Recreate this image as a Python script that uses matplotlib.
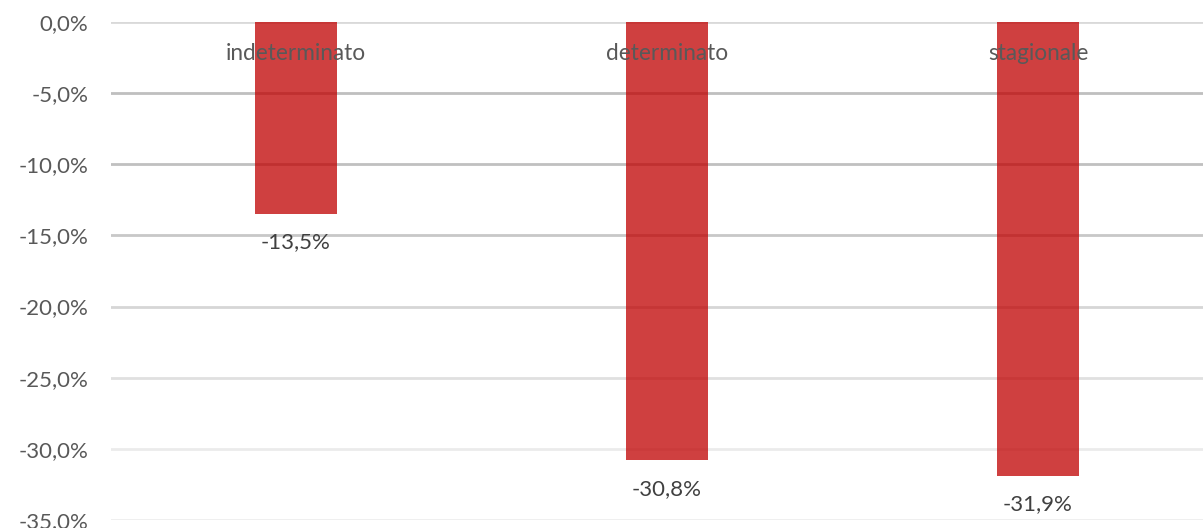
import matplotlib.pyplot as plt
from matplotlib.ticker import FuncFormatter

categorie = ["indeterminato", "determinato", "stagionale"]
variazioni = [-13.5, -30.8, -31.9]
tick_valori = [0, -5, -10, -15, -20, -25, -30, -35]
# gridline shades fade from top to bottom
griglia_colori = ["#D9D9D9", "#BFBFBF", "#C0C0C0", "#C8C8C8",
                  "#D6D6D6", "#E0E0E0", "#EBEBEB", "#EEEEEE"]

plt.rcParams["font.family"] = ["Lato", "DejaVu Sans"]

fig = plt.figure(figsize=(12.03, 5.28), dpi=100)
ax = fig.add_axes([110.5 / 1203, 8 / 528, 1 - 110.5 / 1203, 498 / 528])

x = range(len(categorie))
ax.bar(x, variazioni, width=0.221, color="#C00000", alpha=0.75, zorder=3)

for v, c in zip(tick_valori, griglia_colori):
    ax.axhline(v, color=c, linewidth=2, zorder=1)

ax.set_ylim(-35, 0)
ax.set_xlim(-0.5, 2.4447)
ax.set_yticks(tick_valori)
ax.yaxis.set_major_formatter(FuncFormatter(lambda v, p: f"{v:.1f}%".replace(".", ",")))
ax.tick_params(axis="y", length=0, pad=16, labelsize=16, labelcolor="#595959")
ax.set_xticks([])
for s in ax.spines.values():
    s.set_visible(False)

# category names sit just under the zero line
for i, nome in enumerate(categorie):
    ax.text(i, -2.2, nome, ha="center", va="center", fontsize=16.3,
            color="#595959", zorder=4)

# value labels below each bar
for i, v in enumerate(variazioni):
    ax.text(i, v - 2.0, f"{v:.1f}%".replace(".", ","), ha="center", va="center",
            fontsize=16, color="#404040", zorder=4)

fig.savefig("out.png", dpi=100)
